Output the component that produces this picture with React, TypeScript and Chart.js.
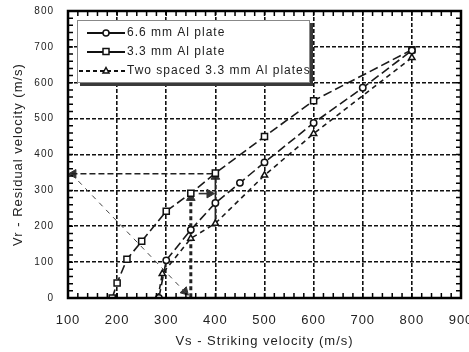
import { useEffect, useRef } from "react";
import { Chart, registerables } from "chart.js";

Chart.register(...registerables);

// ---- data ----
const xTickMin = 100;
const xTickMax = 900;
const yTickMin = 0;
const yTickMax = 800;
const majorStep = 100;
const minorStep = 20;

const legendLabels = ["6.6 mm Al plate", "3.3 mm Al plate", "Two spaced 3.3 mm Al plates"];
const xTitle = "Vs - Striking velocity (m/s)";
const yTitle = "Vr - Residual velocity (m/s)";

const vs66 = [285, 300, 350, 400, 450, 500, 600, 700, 800];
const vr66 = [0, 105, 190, 265, 321, 378, 488, 586, 690];

const vs33 = [190, 200, 220, 250, 300, 350, 400, 500, 600, 800];
const vr33 = [0, 42, 108, 158, 242, 292, 348, 450, 550, 692];

const vsTwo = [283, 292, 350, 400, 500, 600, 800];
const vrTwo = [0, 68, 166, 208, 342, 458, 670];

// guide lines (annotation arrows) in data units
const guideHorizX = [107, 400];
const guideHorizY = [346, 346];
const guideDiagX = [107, 343];
const guideDiagY = [346, 10];
const guideV350X = [350, 350];
const guideV350Y = [2, 276];
const guideV400X = [400, 400];
const guideV400Y = [208, 336];
const guideRightX = [366, 386];
const guideRightY = [291, 291];

const arrowX = [111, 338, 350, 400, 388];
const arrowY = [346, 18, 279, 338, 291];
const arrowAngle = [270, 136, 0, 0, 90];

const pts = (xs: number[], ys: number[]) => xs.map((x, i) => ({ x, y: ys[i] }));

const FONT = '"Liberation Sans", Arial, sans-serif';

const decorPlugin = {
  id: "decor",
  beforeDraw(chart: any) {
    (chart.ctx as any).letterSpacing = "1px";
  },
  afterDraw(chart: any) {
    const { ctx, chartArea: a, scales } = chart;
    const xs = scales.x;
    const ys = scales.y;
    ctx.save();
    ctx.setLineDash([]);
    // minor inner ticks
    ctx.strokeStyle = "#000";
    ctx.lineWidth = 1.5;
    ctx.beginPath();
    for (let v = xTickMin; v <= xTickMax; v += minorStep) {
      const px = xs.getPixelForValue(v);
      ctx.moveTo(px, a.bottom);
      ctx.lineTo(px, a.bottom - 5);
      ctx.moveTo(px, a.top);
      ctx.lineTo(px, a.top + 5);
    }
    for (let v = yTickMin; v <= yTickMax; v += minorStep) {
      const py = ys.getPixelForValue(v);
      ctx.moveTo(a.left, py);
      ctx.lineTo(a.left + 5, py);
      ctx.moveTo(a.right, py);
      ctx.lineTo(a.right - 5, py);
    }
    ctx.stroke();
    // frame
    ctx.lineWidth = 2.5;
    ctx.strokeRect(a.left, a.top, a.right - a.left, a.bottom - a.top);

    // legend box
    const bx = a.left + 9;
    const by = a.top + 9;
    const bw = 233;
    const bh = 63;
    ctx.fillStyle = "#3a3a3a";
    ctx.fillRect(bx + 3, by + 3, bw, bh);
    ctx.fillStyle = "#fff";
    ctx.fillRect(bx, by, bw, bh);
    ctx.strokeStyle = "#888";
    ctx.lineWidth = 1;
    ctx.strokeRect(bx + 0.5, by + 0.5, bw - 1, bh - 1);

    const rowY = [by + 13, by + 32, by + 51];
    const lx0 = bx + 8;
    const lx1 = bx + 48;
    const mx = bx + 29;
    legendLabels.forEach((label, i) => {
      const y = rowY[i];
      ctx.strokeStyle = "#111";
      ctx.lineWidth = 1.8;
      ctx.setLineDash(i === 2 ? [4, 3] : []);
      ctx.beginPath();
      ctx.moveTo(i === 2 ? lx0 - 6 : lx0 + 2, y);
      ctx.lineTo(lx1, y);
      ctx.stroke();
      ctx.setLineDash([]);
      ctx.fillStyle = "#fff";
      ctx.lineWidth = 1.5;
      ctx.beginPath();
      if (i === 0) {
        ctx.arc(mx, y, 3, 0, Math.PI * 2);
      } else if (i === 1) {
        ctx.rect(mx - 3, y - 3.5, 6, 6);
      } else {
        ctx.moveTo(mx, y - 3.5);
        ctx.lineTo(mx + 3, y + 2);
        ctx.lineTo(mx - 3, y + 2);
        ctx.closePath();
      }
      ctx.fill();
      ctx.stroke();
      ctx.fillStyle = "#222";
      ctx.font = `12px ${FONT}`;
      ctx.textBaseline = "middle";
      ctx.textAlign = "left";
      ctx.fillText(label, lx1 + 2, y);
    });
    ctx.restore();
    (ctx as any).letterSpacing = "0px";
  },
};

export default function App() {
  const ref = useRef<HTMLCanvasElement>(null);
  useEffect(() => {
    if (!ref.current) return;
    const series = (label: string, xs: number[], ys: number[], style: string, dash: number[], r: number) => ({
      label,
      data: pts(xs, ys),
      borderColor: "#1a1a1a",
      borderWidth: 1.6,
      borderDash: dash,
      backgroundColor: "#fff",
      pointStyle: style,
      pointRadius: r,
      pointBorderWidth: 1.5,
      pointBorderColor: "#111",
      pointBackgroundColor: "#fff",
      tension: 0,
      fill: false,
    });
    const guide = (xs: number[], ys: number[], width: number, dash: number[], color: string) => ({
      label: "",
      data: pts(xs, ys),
      borderColor: color,
      borderWidth: width,
      borderDash: dash,
      pointRadius: 0,
      fill: false,
      clip: false as any,
    });
    const chart = new Chart(ref.current, {
      type: "line",
      data: {
        datasets: [
          series(legendLabels[0], vs66, vr66, "circle", [9, 4], 3.2),
          series(legendLabels[1], vs33, vr33, "rect", [9, 4], 4.3),
          series(legendLabels[2], vsTwo, vrTwo, "triangle", [5, 4], 3.6),
          guide(guideHorizX, guideHorizY, 1.5, [6, 3], "#222"),
          guide(guideDiagX, guideDiagY, 1, [5, 5], "#444"),
          guide(guideV350X, guideV350Y, 3, [4, 3], "#222"),
          guide(guideV400X, guideV400Y, 1.6, [], "#222"),
          guide(guideRightX, guideRightY, 1.6, [], "#333"),
          {
            label: "",
            data: pts(arrowX, arrowY),
            showLine: false,
            pointStyle: "triangle",
            pointRadius: 5,
            pointRotation: arrowAngle,
            pointBackgroundColor: "#333",
            pointBorderColor: "#333",
            pointBorderWidth: 1,
            clip: false as any,
          } as any,
        ],
      },
      options: {
        responsive: false,
        animation: false,
        events: [],
        layout: { padding: { top: 11, right: 8, left: 0, bottom: 0 } },
        plugins: { legend: { display: false }, tooltip: { enabled: false } },
        scales: {
          x: {
            type: "linear",
            min: xTickMin,
            max: xTickMax,
            ticks: {
              stepSize: majorStep,
              padding: 15,
              maxRotation: 0,
              color: "#222",
              font: { family: FONT, size: 13 },
            },
            grid: { color: "#111", lineWidth: 1.6, drawTicks: false },
            border: { display: false, dash: [4, 2] },
            title: {
              display: true,
              text: xTitle,
              color: "#222",
              font: { family: FONT, size: 13 },
              padding: { top: 0, bottom: 3 },
            },
            afterFit: (s: any) => {
              s.height = 54;
              s.paddingLeft = 0;
              s.paddingRight = 0;
            },
          },
          y: {
            type: "linear",
            min: yTickMin,
            max: yTickMax,
            ticks: {
              stepSize: majorStep,
              padding: 14,
              color: "#222",
              font: { family: FONT, size: 10 },
            },
            grid: { color: "#111", lineWidth: 1.6, drawTicks: false },
            border: { display: false, dash: [4, 2] },
            title: {
              display: true,
              text: yTitle,
              color: "#222",
              font: { family: FONT, size: 13 },
              padding: { top: 11, bottom: 0 },
            },
            afterFit: (s: any) => {
              s.width = 68;
              s.paddingTop = 0;
              s.paddingBottom = 0;
            },
          },
        },
      },
      plugins: [decorPlugin as any],
    });
    return () => chart.destroy();
  }, []);
  return (
    <div style={{ position: "absolute", left: 0, top: 0, width: 469, height: 352, background: "#fff" }}>
      <canvas ref={ref} width={469} height={352} style={{ display: "block" }} />
    </div>
  );
}
